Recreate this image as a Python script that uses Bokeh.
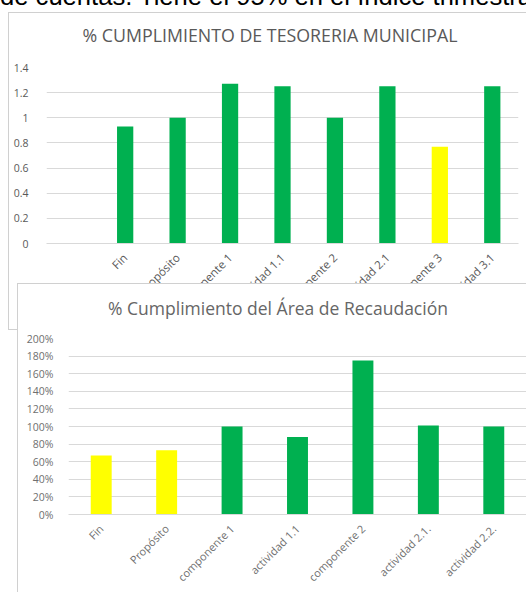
import math
from bokeh.plotting import figure
from bokeh.layouts import column, row
from bokeh.models import (Div, Spacer, NumeralTickFormatter, FixedTicker,
                          ColumnDataSource, Range1d, FactorRange)
from bokeh.embed import file_html
from bokeh.resources import INLINE

# ---------------- data ----------------
header_text = "de cuentas. Tiene el 95% en el índice trimestral"

tes_title = "% CUMPLIMIENTO DE TESORERIA MUNICIPAL"
tes_categories = [" ", "Fin", "Propósito", "Componente 1", "Actividad 1.1",
                  "Componente 2", "Actividad 2.1", "Componente 3", "Actividad 3.1"]
tes_bar_categories = ["Fin", "Propósito", "Componente 1", "Actividad 1.1",
                      "Componente 2", "Actividad 2.1", "Componente 3", "Actividad 3.1"]
tes_values = [0.93, 1.00, 1.27, 1.25, 1.00, 1.25, 0.77, 1.25]
tes_ticks = [0, 0.2, 0.4, 0.6, 0.8, 1.0, 1.2, 1.4]

rec_title = "% Cumplimiento del Área de Recaudación"
rec_categories = ["Fin", "Propósito", "componente 1", "actividad 1.1",
                  "componente 2", "actividad 2.1.", "actividad 2.2."]
rec_values = [0.67, 0.73, 1.00, 0.88, 1.75, 1.01, 1.00]
rec_ticks = [0, 0.2, 0.4, 0.6, 0.8, 1.0, 1.2, 1.4, 1.6, 1.8, 2.0]

# ---------------- styles ----------------
GREEN = "#00B050"
YELLOW = "#FFFF00"
GRID = "#d9d9d9"
BOX = "1px solid #d0d0d0"
TXT = "#595959"
FONT = "Open Sans"

tes_colors = [GREEN, GREEN, GREEN, GREEN, GREEN, GREEN, YELLOW, GREEN]
rec_colors = [YELLOW, YELLOW, GREEN, GREEN, GREEN, GREEN, GREEN]


def style_axes(p, ylabel_size, ylabel_standoff, xlabel_size, xlabel_standoff, txt):
    p.outline_line_color = None
    p.xgrid.grid_line_color = None
    p.ygrid.grid_line_color = GRID
    p.ygrid.grid_line_width = 1
    p.yaxis.axis_line_color = None
    p.yaxis.major_tick_line_color = None
    p.yaxis.minor_tick_line_color = None
    p.yaxis.major_label_standoff = ylabel_standoff
    p.yaxis.major_label_text_font = FONT
    p.yaxis.major_label_text_font_size = ylabel_size
    p.yaxis.major_label_text_color = txt
    p.xaxis.axis_line_color = GRID
    p.xaxis.major_tick_line_color = None
    p.xaxis.minor_tick_line_color = None
    p.xaxis.major_label_orientation = math.pi / 4
    p.xaxis.major_label_standoff = xlabel_standoff
    p.xaxis.major_label_text_font = FONT
    p.xaxis.major_label_text_font_size = xlabel_size
    p.xaxis.major_label_text_color = txt
    p.background_fill_color = "white"
    p.border_fill_color = "white"


def title_div(text, width, pad_left, pad_top, color, size):
    html = ('<div style="display:block;box-sizing:border-box;width:%dpx;'
            'font-family:\'Open Sans\';font-size:%s;line-height:17.5px;'
            'white-space:nowrap;text-align:center;color:%s;padding-left:%dpx;padding-top:%dpx">%s</div>'
            % (width, size, color, pad_left, pad_top, text))
    return Div(text=html, width=width, height=40, margin=0)


# ---------------- chart 1 ----------------
src1 = ColumnDataSource(dict(cat=tes_bar_categories, val=tes_values, color=tes_colors))
p1 = figure(x_range=FactorRange(*tes_categories), y_range=Range1d(0, 1.4),
            width=517, height=276,
            min_border_left=37, min_border_right=8, min_border_top=14, min_border_bottom=86,
            output_backend="svg", toolbar_location=None, tools="")
p1.vbar(x="cat", top="val", width=0.31, fill_color="color", line_color=None, source=src1)
p1.yaxis.ticker = FixedTicker(ticks=tes_ticks)
p1.yaxis.formatter = NumeralTickFormatter(format="0.[0]")
style_axes(p1, "10.5px", 12, "11.5px", 6, TXT)

wrap1 = column(title_div(tes_title, 517, 5, 14, TXT, "17.8px"), p1,
               styles={"border-left": BOX, "border-top": BOX, "border-bottom": BOX,
                       "background": "white"})

# ---------------- chart 2 ----------------
src2 = ColumnDataSource(dict(cat=rec_categories, val=rec_values, color=rec_colors))
p2 = figure(x_range=FactorRange(*rec_categories), y_range=Range1d(0, 2.0),
            width=508, height=268,
            min_border_left=50, min_border_right=0, min_border_top=14, min_border_bottom=78,
            output_backend="svg", toolbar_location=None, tools="")
p2.vbar(x="cat", top="val", width=0.32, fill_color="color", line_color=None, source=src2)
p2.yaxis.ticker = FixedTicker(ticks=rec_ticks)
p2.yaxis.formatter = NumeralTickFormatter(format="0%")
style_axes(p2, "10.5px", 9, "11px", 6, "#6f6f6f")

wrap2 = column(title_div(rec_title, 508, 12, 16, "#666666", "17.5px"), p2,
               styles={"border-left": BOX, "border-top": BOX, "background": "white",
                       "position": "relative", "z-index": "2"})

header = Div(text=('<div style="position:relative;top:-17px;font-family:\'Liberation Sans\';'
                   'font-size:25.6px;line-height:26px;white-space:nowrap;color:#000">'
                   + header_text + '</div>'),
             width=526, height=12, margin=0, styles={"overflow": "hidden"})

layout = column(header,
                row(Spacer(width=8, height=10), wrap1),
                row(Spacer(width=17, height=10), wrap2,
                    styles={"margin-top": "-47px", "position": "relative", "z-index": "2"}))

open("out.html", "w").write(file_html(layout, INLINE))
